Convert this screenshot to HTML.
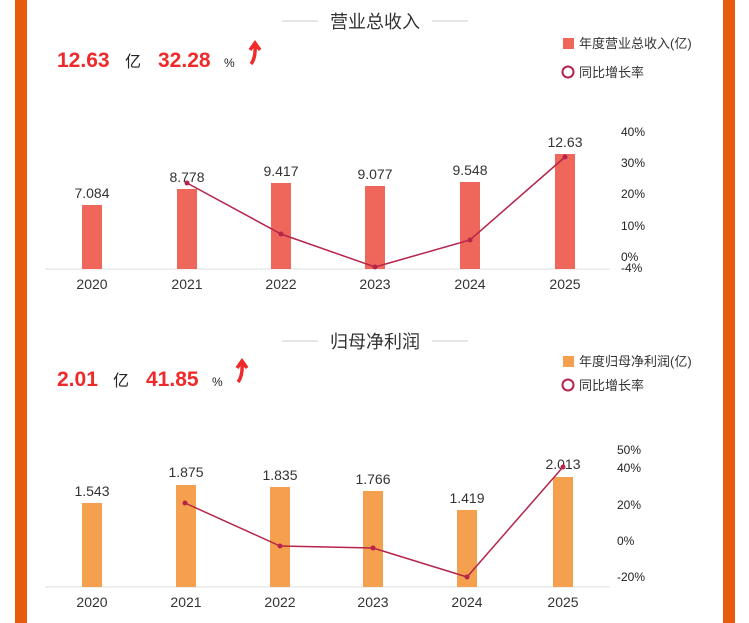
<!DOCTYPE html>
<html><head><meta charset="utf-8"><style>
body{margin:0;width:749px;height:623px;background:#fff;overflow:hidden;position:relative;font-family:"Liberation Sans","Noto Sans CJK SC",sans-serif}
</style></head><body>
<svg width="749" height="623" style="position:absolute;left:0;top:0" font-family="Liberation Sans, Noto Sans CJK SC, sans-serif">
<rect x="15" y="0" width="12" height="623" fill="#e85a0c"/>
<rect x="723" y="0" width="12" height="623" fill="#e85a0c"/>
<!-- Chart 1 -->
<line x1="282" y1="21" x2="318" y2="21" stroke="#ccc"/><line x1="432" y1="21" x2="468" y2="21" stroke="#ccc"/>
<text x="375" y="28" text-anchor="middle" font-size="18" fill="#333">营业总收入</text>
<text x="57" y="67" font-size="21" font-weight="bold" fill="#ee2a2a">12.63</text>
<text x="125" y="67" font-size="16" fill="#222">亿</text>
<text x="158" y="67" font-size="21" font-weight="bold" fill="#ee2a2a">32.28</text>
<text x="224" y="67" font-size="12" fill="#222">%</text>
<path d="M251 64 Q256 58 255 44 M250 50 L255 43 L260 50" stroke="#ee2a2a" stroke-width="3.5" fill="none"/>
<rect x="563" y="38" width="11" height="11" fill="#ef675b"/>
<text x="579" y="48" font-size="13" fill="#333">年度营业总收入(亿)</text>
<circle cx="568" cy="72" r="5.5" fill="none" stroke="#b5244a" stroke-width="2"/>
<text x="579" y="77" font-size="13" fill="#333">同比增长率</text>
<line x1="45" y1="269" x2="610" y2="269" stroke="#ddd"/>
<g fill="#ef675b">
<rect x="82" y="205" width="20" height="64"/><rect x="177" y="189" width="20" height="80"/><rect x="271" y="183" width="20" height="86"/><rect x="365" y="186" width="20" height="83"/><rect x="460" y="182" width="20" height="87"/><rect x="555" y="154" width="20" height="115"/>
</g>
<g font-size="14" fill="#333" text-anchor="middle">
<text x="92" y="198">7.084</text><text x="187" y="182">8.778</text><text x="281" y="176">9.417</text><text x="375" y="179">9.077</text><text x="470" y="175">9.548</text><text x="565" y="147">12.63</text>
<text x="92" y="289">2020</text><text x="187" y="289">2021</text><text x="281" y="289">2022</text><text x="375" y="289">2023</text><text x="470" y="289">2024</text><text x="565" y="289">2025</text>
</g>
<polyline points="187,183 281,234 375,267 470,240 565,157" fill="none" stroke="#b5244a" stroke-width="1.5"/>
<g fill="#b5244a"><circle cx="187" cy="183" r="2.5"/><circle cx="281" cy="234" r="2.5"/><circle cx="375" cy="267" r="2.5"/><circle cx="470" cy="240" r="2.5"/><circle cx="565" cy="157" r="2.5"/></g>
<g font-size="12" fill="#222">
<text x="621" y="136">40%</text><text x="621" y="167">30%</text><text x="621" y="198">20%</text><text x="621" y="230">10%</text><text x="621" y="261">0%</text><text x="621" y="272">-4%</text>
</g>
<!-- Chart 2 -->
<line x1="282" y1="341" x2="318" y2="341" stroke="#ccc"/><line x1="432" y1="341" x2="468" y2="341" stroke="#ccc"/>
<text x="375" y="348" text-anchor="middle" font-size="18" fill="#333">归母净利润</text>
<text x="57" y="386" font-size="21" font-weight="bold" fill="#ee2a2a">2.01</text>
<text x="113" y="386" font-size="16" fill="#222">亿</text>
<text x="146" y="386" font-size="21" font-weight="bold" fill="#ee2a2a">41.85</text>
<text x="212" y="386" font-size="12" fill="#222">%</text>
<path d="M238 382 Q243 376 242 362 M237 368 L242 361 L247 368" stroke="#ee2a2a" stroke-width="3.5" fill="none"/>
<rect x="563" y="356" width="11" height="11" fill="#f5a04e"/>
<text x="579" y="366" font-size="13" fill="#333">年度归母净利润(亿)</text>
<circle cx="568" cy="385" r="5.5" fill="none" stroke="#b5244a" stroke-width="2"/>
<text x="579" y="390" font-size="13" fill="#333">同比增长率</text>
<line x1="45" y1="587" x2="610" y2="587" stroke="#ddd"/>
<g fill="#f5a04e">
<rect x="82" y="503" width="20" height="84"/><rect x="176" y="485" width="20" height="102"/><rect x="270" y="487" width="20" height="100"/><rect x="363" y="491" width="20" height="96"/><rect x="457" y="510" width="20" height="77"/><rect x="553" y="477" width="20" height="110"/>
</g>
<g font-size="14" fill="#333" text-anchor="middle">
<text x="92" y="496">1.543</text><text x="186" y="477">1.875</text><text x="280" y="480">1.835</text><text x="373" y="484">1.766</text><text x="467" y="503">1.419</text><text x="563" y="469">2.013</text>
<text x="92" y="607">2020</text><text x="186" y="607">2021</text><text x="280" y="607">2022</text><text x="373" y="607">2023</text><text x="467" y="607">2024</text><text x="563" y="607">2025</text>
</g>
<polyline points="185,503 280,546 373,548 467,577 563,467" fill="none" stroke="#b5244a" stroke-width="1.5"/>
<g fill="#b5244a"><circle cx="185" cy="503" r="2.5"/><circle cx="280" cy="546" r="2.5"/><circle cx="373" cy="548" r="2.5"/><circle cx="467" cy="577" r="2.5"/><circle cx="563" cy="467" r="2.5"/></g>
<g font-size="12" fill="#222">
<text x="617" y="454">50%</text><text x="617" y="472">40%</text><text x="617" y="509">20%</text><text x="617" y="545">0%</text><text x="617" y="581">-20%</text>
</g>
</svg>
</body></html>
